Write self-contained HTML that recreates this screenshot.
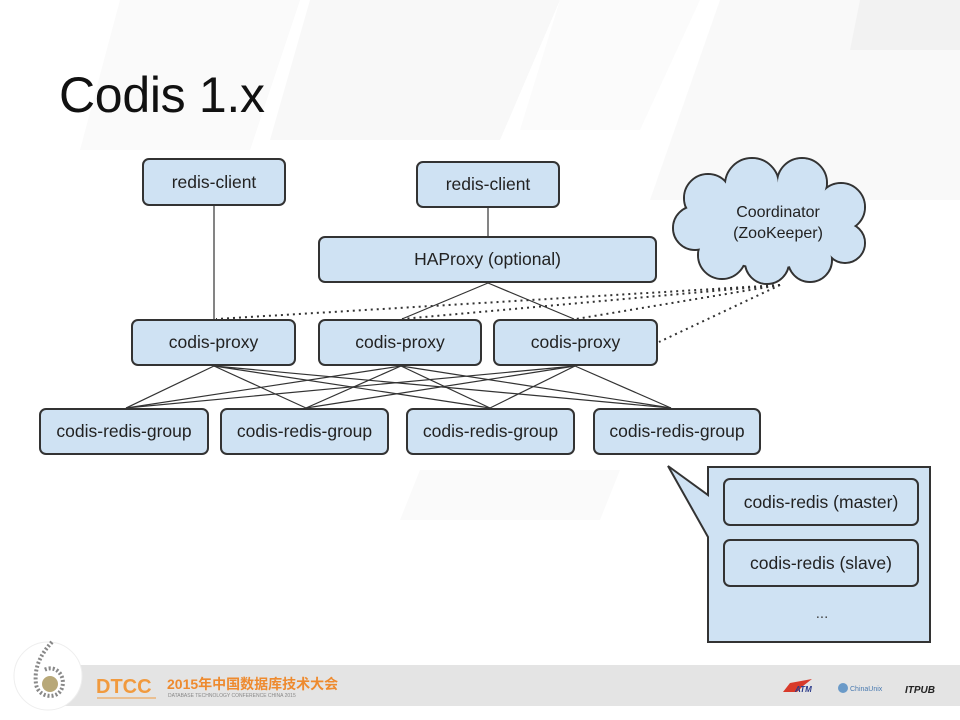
<!DOCTYPE html>
<html><head><meta charset="utf-8">
<style>
html,body{margin:0;padding:0;}
body{width:960px;height:720px;position:relative;overflow:hidden;background:#fff;font-family:"Liberation Sans",Arial,sans-serif;}
.b{position:absolute;box-sizing:border-box;background:#cfe2f3;border:2px solid #333;border-radius:7px;display:flex;align-items:center;justify-content:center;font-size:17.5px;color:#222;white-space:nowrap;}
svg{position:absolute;left:0;top:0;}
.t{position:absolute;white-space:nowrap;}
</style></head><body>
<svg width="960" height="720" viewBox="0 0 960 720">
  <!-- faint background shapes -->
  <polygon points="120,0 300,0 250,150 80,150" fill="#fafafa"/>
  <polygon points="310,0 560,0 500,140 270,140" fill="#f8f8f8"/>
  <polygon points="560,0 700,0 640,130 520,130" fill="#fbfbfb"/>
  <polygon points="720,0 960,0 960,200 650,200" fill="#f9f9f9"/>
  <polygon points="860,0 960,0 960,50 850,50" fill="#f2f2f2"/>
  <polygon points="420,470 620,470 600,520 400,520" fill="#fafafa"/>
  <!-- footer band -->
  <rect x="60" y="665" width="900" height="41" fill="#e4e4e4"/>
  <circle cx="48" cy="676" r="34" fill="#ffffff"/>
  <circle cx="48" cy="676" r="34" fill="none" stroke="#eeeeee" stroke-width="1"/>
  <path d="M52,642 C40,655 34,668 36,684 C38,698 58,700 62,688 C66,676 56,664 44,670" fill="none" stroke="#888" stroke-width="4" stroke-dasharray="2 2"/>
  <circle cx="50" cy="684" r="8" fill="#b8a878"/>
  <line x1="97" y1="698" x2="156" y2="698" stroke="#f19a3e" stroke-width="1"/>
  <!-- right logos -->
  <polygon points="783,692 790,683 812,679 803,686 797,692" fill="#d83a2a"/>
  <text x="795" y="692" font-family="Liberation Sans" font-size="8" font-weight="bold" font-style="italic" fill="#2a3a8a">ATM</text>
  <circle cx="843" cy="688" r="5" fill="#6a9ac8"/>
  <text x="850" y="691" font-family="Liberation Sans" font-size="7" fill="#4a7ab0">ChinaUnix</text>
  <text x="905" y="693" font-family="Liberation Sans" font-size="10" font-weight="bold" font-style="italic" fill="#222">ITPUB</text>

  <!-- solid connectors -->
  <g stroke="#333" stroke-width="1.2" fill="none">
    <line x1="214" y1="206" x2="214" y2="319"/>
    <line x1="488" y1="208" x2="488" y2="236"/>
    <line x1="488" y1="283" x2="402" y2="319"/>
    <line x1="488" y1="283" x2="574" y2="319"/>
    <line x1="214" y1="366" x2="126" y2="408"/>
    <line x1="214" y1="366" x2="306" y2="408"/>
    <line x1="214" y1="366" x2="490" y2="408"/>
    <line x1="214" y1="366" x2="671" y2="408"/>
    <line x1="401" y1="366" x2="126" y2="408"/>
    <line x1="401" y1="366" x2="306" y2="408"/>
    <line x1="401" y1="366" x2="490" y2="408"/>
    <line x1="401" y1="366" x2="671" y2="408"/>
    <line x1="575" y1="366" x2="126" y2="408"/>
    <line x1="575" y1="366" x2="306" y2="408"/>
    <line x1="575" y1="366" x2="490" y2="408"/>
    <line x1="575" y1="366" x2="671" y2="408"/>
  </g>
  <!-- dotted connectors -->
  <g stroke="#333" stroke-width="2" stroke-dasharray="2 4" fill="none">
    <line x1="780" y1="285" x2="216" y2="319"/>
    <line x1="780" y1="285" x2="402" y2="319"/>
    <line x1="780" y1="285" x2="576" y2="319"/>
    <line x1="780" y1="285" x2="659" y2="342"/>
  </g>

  <!-- cloud -->
  <g stroke="#333" stroke-width="2" fill="#cfe2f3">
    <ellipse cx="770" cy="225" rx="72" ry="44"/>
    <circle cx="708" cy="198" r="24"/>
    <circle cx="752" cy="185" r="27"/>
    <circle cx="802" cy="183" r="25"/>
    <circle cx="841" cy="207" r="24"/>
    <circle cx="845" cy="243" r="20"/>
    <circle cx="810" cy="260" r="22"/>
    <circle cx="767" cy="262" r="22"/>
    <circle cx="722" cy="255" r="24"/>
    <circle cx="695" cy="228" r="22"/>
  </g>
  <g fill="#cfe2f3">
    <ellipse cx="770" cy="225" rx="71" ry="43"/>
    <circle cx="708" cy="198" r="23"/>
    <circle cx="752" cy="185" r="26"/>
    <circle cx="802" cy="183" r="24"/>
    <circle cx="841" cy="207" r="23"/>
    <circle cx="845" cy="243" r="19"/>
    <circle cx="810" cy="260" r="21"/>
    <circle cx="767" cy="262" r="21"/>
    <circle cx="722" cy="255" r="23"/>
    <circle cx="695" cy="228" r="21"/>
  </g>
  <text x="778" y="217" text-anchor="middle" font-family="Liberation Sans" font-size="16" fill="#222">Coordinator</text>
  <text x="778" y="238" text-anchor="middle" font-family="Liberation Sans" font-size="16" fill="#222">(ZooKeeper)</text>

  <!-- callout -->
  <path d="M708,467 L930,467 L930,642 L708,642 L708,537 L668,466 L708,495 Z" fill="#cfe2f3" stroke="#333" stroke-width="2" stroke-linejoin="miter"/>
  <text x="822" y="618" text-anchor="middle" font-family="Liberation Sans" font-size="15" fill="#444">...</text>
</svg>

<div class="t" style="left:59px;top:66px;font-size:50px;color:#111;letter-spacing:-0.3px;">Codis 1.x</div>

<div class="b" style="left:142px;top:158px;width:144px;height:48px;">redis-client</div>
<div class="b" style="left:416px;top:161px;width:144px;height:47px;">redis-client</div>
<div class="b" style="left:318px;top:236px;width:339px;height:47px;">HAProxy (optional)</div>
<div class="b" style="left:131px;top:319px;width:165px;height:47px;">codis-proxy</div>
<div class="b" style="left:318px;top:319px;width:164px;height:47px;">codis-proxy</div>
<div class="b" style="left:493px;top:319px;width:165px;height:47px;">codis-proxy</div>
<div class="b" style="left:39px;top:408px;width:170px;height:47px;">codis-redis-group</div>
<div class="b" style="left:220px;top:408px;width:169px;height:47px;">codis-redis-group</div>
<div class="b" style="left:406px;top:408px;width:169px;height:47px;">codis-redis-group</div>
<div class="b" style="left:593px;top:408px;width:168px;height:47px;">codis-redis-group</div>
<div class="b" style="left:723px;top:478px;width:196px;height:48px;">codis-redis (master)</div>
<div class="b" style="left:723px;top:539px;width:196px;height:48px;">codis-redis (slave)</div>

<div class="t" style="left:96px;top:677px;font-size:20px;font-weight:bold;color:#f19a3e;letter-spacing:0px;line-height:20px;">DTCC</div>
<div class="t" style="left:167px;top:676px;font-size:14px;font-weight:bold;color:#ee8a2e;line-height:16px;font-family:'Liberation Sans','Noto Sans CJK SC',sans-serif;">2015年中国数据库技术大会</div>
<div class="t" style="left:168px;top:693px;font-size:5px;color:#888;line-height:6px;">DATABASE TECHNOLOGY CONFERENCE CHINA 2015</div>
</body></html>
